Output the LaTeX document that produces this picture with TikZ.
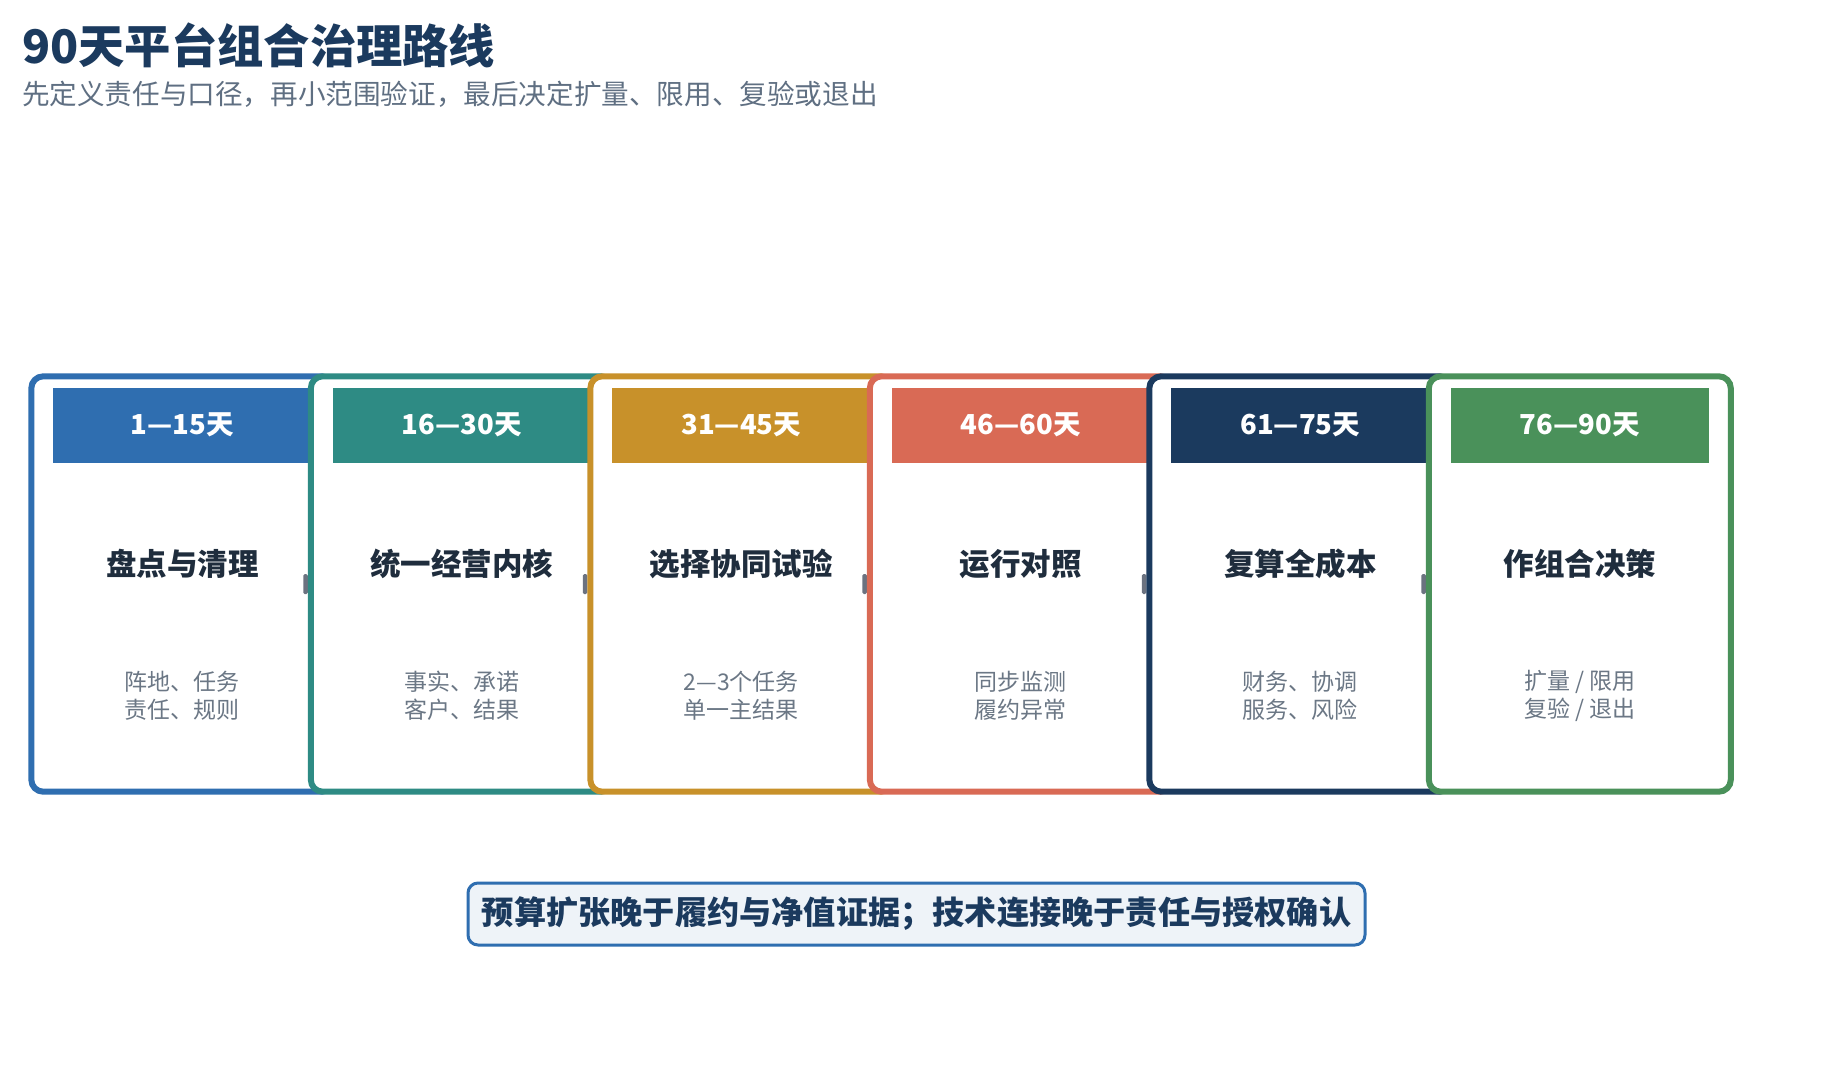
\documentclass[tikz,border=0pt]{standalone}
\usepackage{fontspec}
\setmainfont{Noto Sans CJK SC}
\definecolor{cblue}{HTML}{2F6EB0}
\definecolor{cteal}{HTML}{2E8B84}
\definecolor{cgold}{HTML}{C8912A}
\definecolor{ccoral}{HTML}{D96A55}
\definecolor{cnavy}{HTML}{1B3A5E}
\definecolor{cgreen}{HTML}{4A915A}
\definecolor{titlenavy}{HTML}{1B3A5E}
\definecolor{subgray}{HTML}{5F6F82}
\definecolor{cardtitle}{HTML}{1F2D3D}
\definecolor{bodygray}{HTML}{6B7785}
\definecolor{jointgray}{HTML}{6B7280}
\definecolor{notefill}{HTML}{EEF3F8}
\begin{document}
\begin{tikzpicture}[x=1pt,y=-1pt,
  card/.style={draw=#1, line width=6pt, fill=white, rounded corners=12pt,
    minimum width=302pt, minimum height=415.4pt, inner sep=0pt},
  band/.style={fill=#1, minimum width=258pt, minimum height=75pt, inner sep=0pt,
    text=white, font=\bfseries\fontsize{27.5}{32}\selectfont},
  ctitle/.style={inner sep=0pt, text=cardtitle, font=\bfseries\fontsize{30.5}{36}\selectfont},
  cbody/.style={inner sep=0pt, text=bodygray, align=center, font=\fontsize{23}{28}\selectfont},
  joint/.style={fill=jointgray, rounded corners=1.5pt, minimum width=4.5pt,
    minimum height=20pt, inner sep=0pt},
  note/.style={draw=cblue, line width=3pt, fill=notefill, rounded corners=10pt,
    minimum width=897pt, minimum height=62pt, inner sep=0pt, text=titlenavy,
    font=\bfseries\fontsize{32.2}{37}\selectfont}
]
\useasboundingbox (0,0) rectangle (1832,1084);
\fill[white] (0,0) rectangle (1832,1084);

\node[anchor=base west, inner sep=0pt, text=titlenavy,
  font=\bfseries\fontsize{46.3}{54}\selectfont] (title) at (22,63) {90天平台组合治理路线};
\node[anchor=base west, inner sep=0pt, text=subgray,
  font=\fontsize{27.6}{32}\selectfont] (subtitle) at (22,104.5)
  {先定义责任与口径，再小范围验证，最后决定扩量、限用、复验或退出};

\foreach \i/\col/\days/\ttl/\bdy in {
  0/cblue/{1—15天}/{盘点与清理}/{阵地、任务\\责任、规则},
  1/cteal/{16—30天}/{统一经营内核}/{事实、承诺\\客户、结果},
  2/cgold/{31—45天}/{选择协同试验}/{2—3个任务\\单一主结果},
  3/ccoral/{46—60天}/{运行对照}/{同步监测\\履约异常},
  4/cnavy/{61—75天}/{复算全成本}/{财务、协调\\服务、风险},
  5/cgreen/{76—90天}/{作组合决策}/{扩量 / 限用\\复验 / 退出}} {
  \node[card=\col] (c\i) at (182.3+279.5*\i, 584) {};
  \node[band=\col] (h\i) at (182.3+279.5*\i, 425.2) {\days};
  \node[ctitle] (t\i) at (182.3+279.5*\i, 564) {\ttl};
  \node[cbody] (b\i) at (182.3+279.5*\i, 696) {\bdy};
  \ifnum\i<5
    \node[joint] (j\i) at (305.5+279.5*\i, 584) {};
  \fi
}

\node[note] (note) at (916.5,914) {预算扩张晚于履约与净值证据；技术连接晚于责任与授权确认};
\end{tikzpicture}
\end{document}
